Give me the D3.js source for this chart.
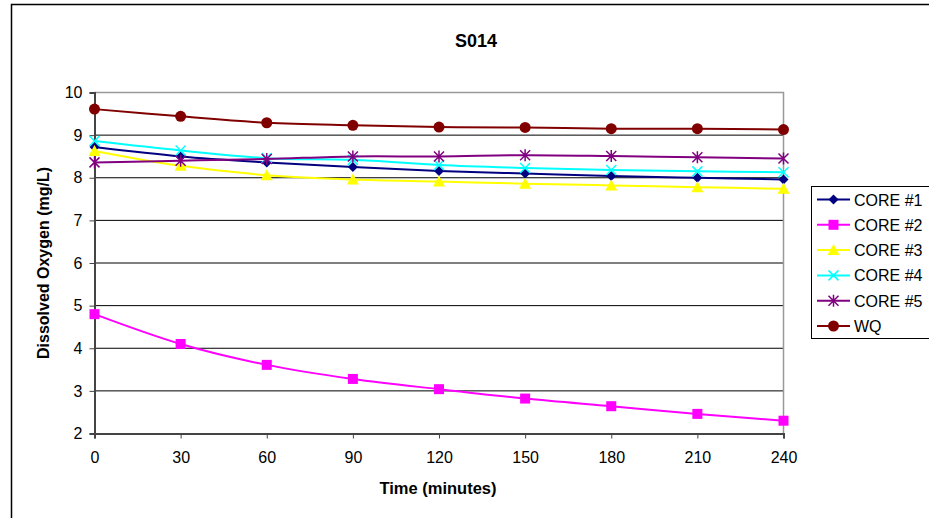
<!DOCTYPE html>
<html>
<head>
<meta charset="utf-8">
<script src="https://cdn.jsdelivr.net/npm/d3@7"></script>
<style>
  body { margin: 0; background: #fff; }
  svg { display: block; font-family: "Liberation Sans", Arial, sans-serif; }
</style>
</head>
<body>
<svg id="chart" width="929" height="518"></svg>
<script>
// data
const times = [0, 30, 60, 90, 120, 150, 180, 210, 240];
const seriesNames = ['CORE #1', 'CORE #2', 'CORE #3', 'CORE #4', 'CORE #5', 'WQ'];
const core1 = [8.72, 8.50, 8.36, 8.25, 8.16, 8.10, 8.04, 8.00, 7.96];
const core2 = [4.80, 4.10, 3.61, 3.28, 3.04, 2.82, 2.64, 2.46, 2.30];
const core3 = [8.63, 8.28, 8.06, 7.96, 7.91, 7.86, 7.82, 7.78, 7.74];
const core4 = [8.86, 8.64, 8.46, 8.42, 8.30, 8.23, 8.18, 8.15, 8.13];
const core5 = [8.36, 8.40, 8.44, 8.50, 8.50, 8.53, 8.51, 8.48, 8.45];
const wq    = [9.61, 9.44, 9.29, 9.23, 9.19, 9.18, 9.15, 9.15, 9.13];
const yTicks = [2, 3, 4, 5, 6, 7, 8, 9, 10];

const seriesValues = [core1, core2, core3, core4, core5, wq];
const colors = ['#000080', '#ff00ff', '#ffff00', '#00ffff', '#800080', '#800000'];
const shapes = ['diamond', 'square', 'triangle', 'x', 'star', 'circle'];

const svg = d3.select('#chart');

// outer chart frame (cut off on right and bottom like the source)
svg.append('rect')
  .attr('x', 11.5).attr('y', 4.5)
  .attr('width', 930).attr('height', 530)
  .attr('fill', 'none').attr('stroke', '#000').attr('stroke-width', 1.5);

const plot = { left: 94.5, right: 783.5, top: 92.5, bottom: 433.5 };

const x = d3.scaleLinear().domain([0, 240]).range([plot.left, plot.right]);
const y = d3.scaleLinear().domain([2, 10]).range([plot.bottom, plot.top]);

// gridlines
svg.append('g')
  .selectAll('line')
  .data(yTicks.slice(1, -1))
  .join('line')
  .attr('x1', plot.left).attr('x2', plot.right)
  .attr('y1', d => y(d)).attr('y2', d => y(d))
  .attr('stroke', '#000').attr('stroke-width', 1);

// plot area top & right border
svg.append('path')
  .attr('d', `M${plot.left},${plot.top}H${plot.right}V${plot.bottom}`)
  .attr('fill', 'none').attr('stroke', '#999').attr('stroke-width', 1.5);

// Y axis
const yAxis = svg.append('g')
  .attr('transform', `translate(${plot.left},0)`)
  .call(d3.axisLeft(y).tickValues(yTicks).tickSize(5).tickPadding(7).tickFormat(d3.format('d')));
yAxis.select('.domain').attr('stroke', '#444').attr('stroke-width', 2);
yAxis.selectAll('.tick line').attr('stroke', '#444');
yAxis.selectAll('text').style('font-size', '16px').attr('fill', '#000');

// X axis
const xAxis = svg.append('g')
  .attr('transform', `translate(0,${plot.bottom})`)
  .call(d3.axisBottom(x).tickValues(times).tickSize(5).tickPadding(13));
xAxis.select('.domain').attr('stroke', '#444').attr('stroke-width', 2);
xAxis.selectAll('.tick line').attr('stroke', '#444');
xAxis.selectAll('text').style('font-size', '16px').attr('fill', '#000');

// titles
svg.append('text')
  .attr('x', 476).attr('y', 47)
  .attr('text-anchor', 'middle')
  .style('font-size', '18px').style('font-weight', 'bold')
  .text('S014');

svg.append('text')
  .attr('x', 438).attr('y', 494)
  .attr('text-anchor', 'middle')
  .style('font-size', '16.5px').style('font-weight', 'bold')
  .text('Time (minutes)');

svg.append('text')
  .attr('transform', `translate(49,${(plot.top + plot.bottom) / 2}) rotate(-90)`)
  .attr('text-anchor', 'middle')
  .style('font-size', '16px').style('font-weight', 'bold')
  .text('Dissolved Oxygen (mg/L)');

// marker drawer
function drawMarker(g, shape, color, cx, cy) {
  const m = g.append('g').attr('transform', `translate(${cx},${cy})`);
  if (shape === 'diamond') {
    m.append('path').attr('d', 'M0,-5L5,0L0,5L-5,0Z').attr('fill', color);
  } else if (shape === 'square') {
    m.append('rect').attr('x', -5).attr('y', -5).attr('width', 10).attr('height', 10).attr('fill', color);
  } else if (shape === 'triangle') {
    m.append('path').attr('d', 'M0,-6L6,5L-6,5Z').attr('fill', color);
  } else if (shape === 'x') {
    m.append('path').attr('d', 'M-5,-5L5,5M-5,5L5,-5').attr('stroke', color).attr('stroke-width', 1.5);
  } else if (shape === 'star') {
    m.append('path').attr('d', 'M-5,-5L5,5M-5,5L5,-5M0,-6V6').attr('stroke', color).attr('stroke-width', 1.5);
  } else {
    m.append('circle').attr('r', 5.5).attr('fill', color);
  }
}

const line = d3.line()
  .x((d, i) => x(times[i]))
  .y(d => y(d))
  .curve(d3.curveCatmullRom.alpha(0.5));

// draw series in order so WQ ends up on top
seriesValues.forEach((vals, si) => {
  const g = svg.append('g').attr('class', 'series');
  g.append('path')
    .datum(vals)
    .attr('d', line)
    .attr('fill', 'none')
    .attr('stroke', colors[si])
    .attr('stroke-width', 2);
  vals.forEach((v, i) => drawMarker(g, shapes[si], colors[si], x(times[i]), y(v)));
});

// legend
const legend = svg.append('g');
legend.append('rect')
  .attr('x', 811.5).attr('y', 186.5)
  .attr('width', 130).attr('height', 152)
  .attr('fill', '#fff').attr('stroke', '#000').attr('stroke-width', 1);

seriesNames.forEach((name, i) => {
  const ly = 199.5 + i * 25.3;
  legend.append('line')
    .attr('x1', 817).attr('x2', 850)
    .attr('y1', ly).attr('y2', ly)
    .attr('stroke', colors[i]).attr('stroke-width', 2);
  drawMarker(legend, shapes[i], colors[i], 833.5, ly);
  legend.append('text')
    .attr('x', 854).attr('y', ly + 6)
    .style('font-size', '16px')
    .text(name);
});
</script>
</body>
</html>
